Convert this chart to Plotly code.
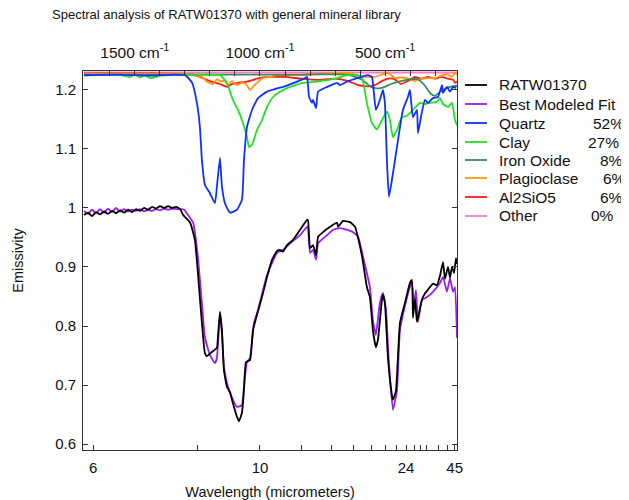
import plotly.graph_objects as go

# ---------------- data (x = wavenumber, cm^-1 ; y = emissivity) ----------------
ratw_wn = [1703, 1687, 1671, 1655, 1639, 1623, 1607, 1591, 1575, 1559, 1543, 1527, 1511, 1495,
           1479, 1463, 1447, 1431, 1415, 1399, 1383, 1367, 1351, 1335, 1319, 1307, 1279, 1260,
           1248, 1232, 1220, 1212, 1192, 1172, 1168, 1160, 1152, 1144, 1132, 1120, 1108, 1092,
           1084, 1072, 1064, 1056, 1040, 1028, 1012, 992, 972, 952, 932, 920, 908, 892, 868,
           840, 812, 808, 800, 788, 776, 768, 748, 720, 692, 688, 668, 640, 620, 608, 592, 573,
           561, 549, 537, 529, 513, 509, 501, 489, 473, 469, 457, 441, 421, 401, 393, 389, 381,
           373, 353, 341, 321, 309, 293, 281, 269, 261, 249, 241, 233, 225, 217, 213]
ratw_val = [0.988, 0.992, 0.986, 0.993, 0.989, 0.994, 0.990, 0.995, 0.991, 0.996, 0.992, 0.997,
            0.993, 0.998, 0.995, 1.000, 0.997, 1.002, 0.999, 1.003, 1.000, 1.003, 1.000, 1.002,
            0.998, 0.988, 0.975, 0.946, 0.890, 0.805, 0.754, 0.749, 0.756, 0.763, 0.781, 0.824,
            0.793, 0.725, 0.697, 0.688, 0.669, 0.646, 0.639, 0.653, 0.692, 0.739, 0.742, 0.793,
            0.819, 0.849, 0.883, 0.912, 0.927, 0.929, 0.926, 0.937, 0.946, 0.963, 0.980, 0.979,
            0.932, 0.937, 0.920, 0.951, 0.959, 0.968, 0.975, 0.968, 0.978, 0.976, 0.968, 0.949,
            0.917, 0.866, 0.849, 0.793, 0.764, 0.776, 0.844, 0.853, 0.839, 0.747, 0.683, 0.675,
            0.690, 0.805, 0.839, 0.873, 0.878, 0.814, 0.846, 0.807, 0.845, 0.855, 0.866, 0.872,
            0.869, 0.885, 0.908, 0.880, 0.900, 0.882, 0.900, 0.890, 0.915, 0.905]

fit_wn = [1703, 1687, 1671, 1655, 1639, 1623, 1607, 1591, 1575, 1559, 1543, 1527, 1511, 1495,
          1479, 1463, 1447, 1431, 1415, 1399, 1383, 1367, 1351, 1335, 1319, 1303, 1291, 1267,
          1248, 1232, 1220, 1200, 1180, 1172, 1160, 1152, 1144, 1128, 1108, 1092, 1072, 1064,
          1052, 1040, 1024, 1008, 972, 932, 908, 880, 840, 812, 808, 800, 788, 776, 768, 732,
          708, 680, 652, 628, 608, 588, 561, 549, 537, 521, 509, 497, 485, 469, 453, 441, 421,
          401, 393, 385, 377, 369, 353, 333, 309, 281, 269, 253, 241, 229, 221, 213]
fit_val = [0.995, 0.990, 0.997, 0.991, 0.998, 0.992, 0.999, 0.993, 1.000, 0.994, 0.998, 0.994,
           0.997, 0.995, 0.998, 0.994, 0.997, 0.995, 0.998, 0.996, 0.999, 0.997, 0.999, 0.998,
           0.998, 0.997, 0.990, 0.975, 0.917, 0.839, 0.781, 0.751, 0.737, 0.746, 0.819, 0.788,
           0.731, 0.697, 0.675, 0.663, 0.666, 0.697, 0.739, 0.746, 0.805, 0.827, 0.886, 0.924,
           0.929, 0.940, 0.954, 0.968, 0.966, 0.924, 0.929, 0.912, 0.940, 0.954, 0.963, 0.966,
           0.963, 0.959, 0.951, 0.917, 0.866, 0.810, 0.785, 0.839, 0.856, 0.829, 0.737, 0.658,
           0.690, 0.793, 0.834, 0.866, 0.875, 0.836, 0.861, 0.807, 0.844, 0.849, 0.858, 0.873,
           0.883, 0.858, 0.881, 0.858, 0.866, 0.780]

quartz_wn = [1703, 1559, 1439, 1339, 1299, 1271, 1252, 1240, 1232, 1220, 1200, 1180, 1172, 1160,
             1152, 1140, 1120, 1092, 1072, 1064, 1052, 1032, 1008, 972, 928, 908, 852, 820, 812,
             804, 792, 788, 776, 768, 732, 692, 680, 652, 612, 569, 553, 545, 537, 521, 509, 501,
             493, 485, 473, 453, 429, 409, 401, 389, 373, 369, 357, 341, 329, 309, 289, 273, 269,
             253, 241, 229, 217]
quartz_val = [1.225, 1.226, 1.224, 1.226, 1.225, 1.212, 1.178, 1.137, 1.081, 1.039, 1.025, 1.008,
              1.036, 1.085, 1.036, 1.008, 0.992, 0.997, 1.014, 1.081, 1.137, 1.166, 1.186, 1.197,
              1.203, 1.205, 1.214, 1.220, 1.222, 1.188, 1.178, 1.183, 1.169, 1.197, 1.205, 1.212,
              1.208, 1.214, 1.220, 1.225, 1.222, 1.195, 1.166, 1.183, 1.200, 1.178, 1.081, 1.019,
              1.047, 1.103, 1.166, 1.188, 1.200, 1.154, 1.166, 1.127, 1.154, 1.183, 1.178, 1.186,
              1.188, 1.208, 1.195, 1.205, 1.197, 1.205, 1.203]

clay_wn = [1703, 1639, 1559, 1519, 1499, 1479, 1459, 1439, 1399, 1359, 1240, 1160, 1132, 1108,
           1088, 1068, 1052, 1044, 1032, 1012, 992, 972, 948, 920, 880, 828, 772, 692, 652, 612,
           592, 573, 553, 533, 513, 493, 481, 469, 453, 433, 413, 389, 361, 341, 321, 293, 281,
           269, 249, 233, 221, 213]
clay_val = [1.224, 1.226, 1.225, 1.222, 1.226, 1.221, 1.225, 1.220, 1.224, 1.225, 1.226, 1.225,
            1.212, 1.183, 1.166, 1.144, 1.120, 1.103, 1.107, 1.132, 1.149, 1.171, 1.188, 1.197,
            1.205, 1.212, 1.214, 1.220, 1.225, 1.225, 1.220, 1.178, 1.144, 1.133, 1.149, 1.163,
            1.149, 1.120, 1.132, 1.154, 1.156, 1.166, 1.178, 1.176, 1.178, 1.180, 1.186, 1.176,
            1.171, 1.178, 1.149, 1.140]

iron_wn = [1703, 1240, 840, 648, 620, 596, 577, 557, 537, 517, 497, 477, 437, 397, 369, 341, 317,
           301, 277, 241, 213]
iron_val = [1.226, 1.226, 1.226, 1.226, 1.222, 1.218, 1.212, 1.205, 1.203, 1.203, 1.206, 1.210,
            1.215, 1.218, 1.218, 1.207, 1.193, 1.190, 1.198, 1.205, 1.207]

plag_wn = [1703, 1439, 1279, 1252, 1232, 1212, 1188, 1172, 1160, 1140, 1128, 1112, 1092, 1072,
           1056, 1040, 1028, 1012, 988, 960, 932, 836, 660, 620, 580, 541, 489, 461, 437, 409,
           381, 361, 329, 301, 277, 249, 233, 221, 213]
plag_val = [1.227, 1.227, 1.227, 1.224, 1.222, 1.214, 1.210, 1.218, 1.215, 1.215, 1.208, 1.215,
            1.208, 1.212, 1.210, 1.200, 1.205, 1.212, 1.220, 1.222, 1.225, 1.225, 1.229, 1.226,
            1.222, 1.222, 1.229, 1.220, 1.221, 1.219, 1.215, 1.218, 1.220, 1.220, 1.224, 1.226,
            1.222, 1.229, 1.226]

al_wn = [1703, 1439, 1291, 1267, 1240, 1200, 1160, 1132, 1112, 1088, 1052, 1012, 972, 940, 900,
         836, 768, 700, 648, 608, 569, 541, 517, 489, 469, 449, 437, 409, 381, 357, 329, 301, 277,
         249, 229, 221, 213]
al_val = [1.228, 1.228, 1.227, 1.226, 1.222, 1.215, 1.210, 1.205, 1.210, 1.212, 1.214, 1.219,
          1.222, 1.222, 1.222, 1.219, 1.217, 1.219, 1.215, 1.208, 1.206, 1.208, 1.214, 1.219,
          1.219, 1.214, 1.210, 1.215, 1.222, 1.219, 1.222, 1.219, 1.222, 1.219, 1.217, 1.212,
          1.214]

other_wn = [1703, 213]
other_val = [1.2295, 1.2295]

series_names = ["RATW01370", "Best Modeled Fit", "Quartz", "Clay", "Iron Oxide",
                "Plagioclase", "Al2SiO5", "Other"]
series_pct = ["", "", "52%", "27%", "8%", "6%", "6%", "0%"]
series_colors = ["#000000", "#9a1cf0", "#1030ff", "#22e022", "#3a8a5a",
                 "#ff9a10", "#ff1a1a", "#ff7ccc"]

# bottom axis: wavelength (micrometres) ; top axis: wavenumbers
wl_major = [6, 10, 24, 45]
wl_minor = [8, 12, 14, 16, 18, 20, 22, 26, 28, 30, 35, 40]
wn_major = [1500, 1000, 500]
wn_minor = [1600, 1400, 1300, 1200, 1100, 900, 800, 700, 600, 400, 300]

FONT = "Liberation Sans, Arial, Helvetica, sans-serif"

fig = go.Figure()
data = [(ratw_wn, ratw_val), (fit_wn, fit_val), (quartz_wn, quartz_val), (clay_wn, clay_val),
        (iron_wn, iron_val), (plag_wn, plag_val), (al_wn, al_val), (other_wn, other_val)]
for i in [7, 6, 5, 4, 3, 2, 1, 0]:
    xs, ys = data[i]
    fig.add_trace(go.Scatter(x=xs, y=ys, mode="lines", name=series_names[i],
                             line=dict(color=series_colors[i], width=1.8,
                                       shape="spline", smoothing=0.4),
                             showlegend=False, hoverinfo="skip"))
fig.add_trace(go.Scatter(x=[1703], y=[1.0], xaxis="x2", mode="markers",
                         marker=dict(opacity=0), showlegend=False, hoverinfo="skip"))

# page has an 8px body margin: lay out in page pixels minus that offset
OFF = 8
W, H = 629 - OFF, 500 - OFF
L, R, T, B = 83 - OFF, 457 - OFF, 71 - OFF, 450 - OFF

axis_common = dict(ticks="inside", ticklen=5, tickcolor="#333", showline=True,
                   linecolor="#333", linewidth=1, showgrid=False, zeroline=False,
                   automargin=False)

fig.update_layout(
    width=W, height=H,
    margin=dict(l=L, r=W - R, t=T, b=H - B),
    plot_bgcolor="white", paper_bgcolor="white",
    font=dict(family=FONT, size=15, color="#111"),
    xaxis=dict(range=[1707, 213], tickmode="array",
               tickvals=[10000.0 / w for w in wl_major], ticktext=[str(w) for w in wl_major],
               minor=dict(tickmode="array", tickvals=[10000.0 / w for w in wl_minor],
                          ticks="inside", ticklen=5, tickcolor="#333"),
               ticklabelstandoff=4,
               title=dict(text="Wavelength (micrometers)", standoff=12, font=dict(size=14.5)),
               **axis_common),
    xaxis2=dict(overlaying="x", side="top", matches="x", tickmode="array",
                tickvals=wn_major, ticktext=[f"{t} cm<sup>-1</sup>" for t in wn_major],
                minor=dict(tickmode="array", tickvals=wn_minor, ticks="inside", ticklen=5,
                           tickcolor="#333"),
                ticklabelstandoff=6, tickfont=dict(size=15.5),
                **axis_common),
    yaxis=dict(range=[0.590, 1.232], tickmode="array",
               tickvals=[0.6, 0.7, 0.8, 0.9, 1.0, 1.1, 1.2],
               ticktext=["0.6", "0.7", "0.8", "0.9", "1", "1.1", "1.2"],
               mirror="ticks", ticklabelstandoff=3,
               title=dict(text="Emissivity", standoff=28, font=dict(size=14.5)),
               **axis_common),
)

def px(x):
    return (x - OFF - L) / (R - L)
def py(y):
    return (B - (y - OFF)) / (B - T)

fig.add_annotation(text="Spectral analysis of RATW01370 with general mineral library",
                   xref="paper", yref="paper", x=px(50), y=py(15),
                   xanchor="left", yanchor="middle", showarrow=False,
                   font=dict(size=13.0, family=FONT, color="#111"))

rows = [85, 104, 123, 142, 160, 178, 197, 216]
pct_right = [0, 0, 626, 621, 625, 628, 625, 616]
for i, name in enumerate(series_names):
    fig.add_shape(type="line", xref="paper", yref="paper", x0=px(465), x1=px(487),
                  y0=py(rows[i]), y1=py(rows[i]),
                  line=dict(color=series_colors[i], width=1.8))
    fig.add_annotation(text=name, xref="paper", yref="paper", x=px(497), y=py(rows[i]),
                       xanchor="left", yanchor="middle", showarrow=False,
                       font=dict(size=15.5, family=FONT, color="#111"))
    if series_pct[i]:
        fig.add_annotation(text=series_pct[i], xref="paper", yref="paper",
                           x=px(pct_right[i]), y=py(rows[i]),
                           xanchor="right", yanchor="middle", showarrow=False,
                           font=dict(size=15.5, family=FONT, color="#111"))

fig.write_html("out.html")
